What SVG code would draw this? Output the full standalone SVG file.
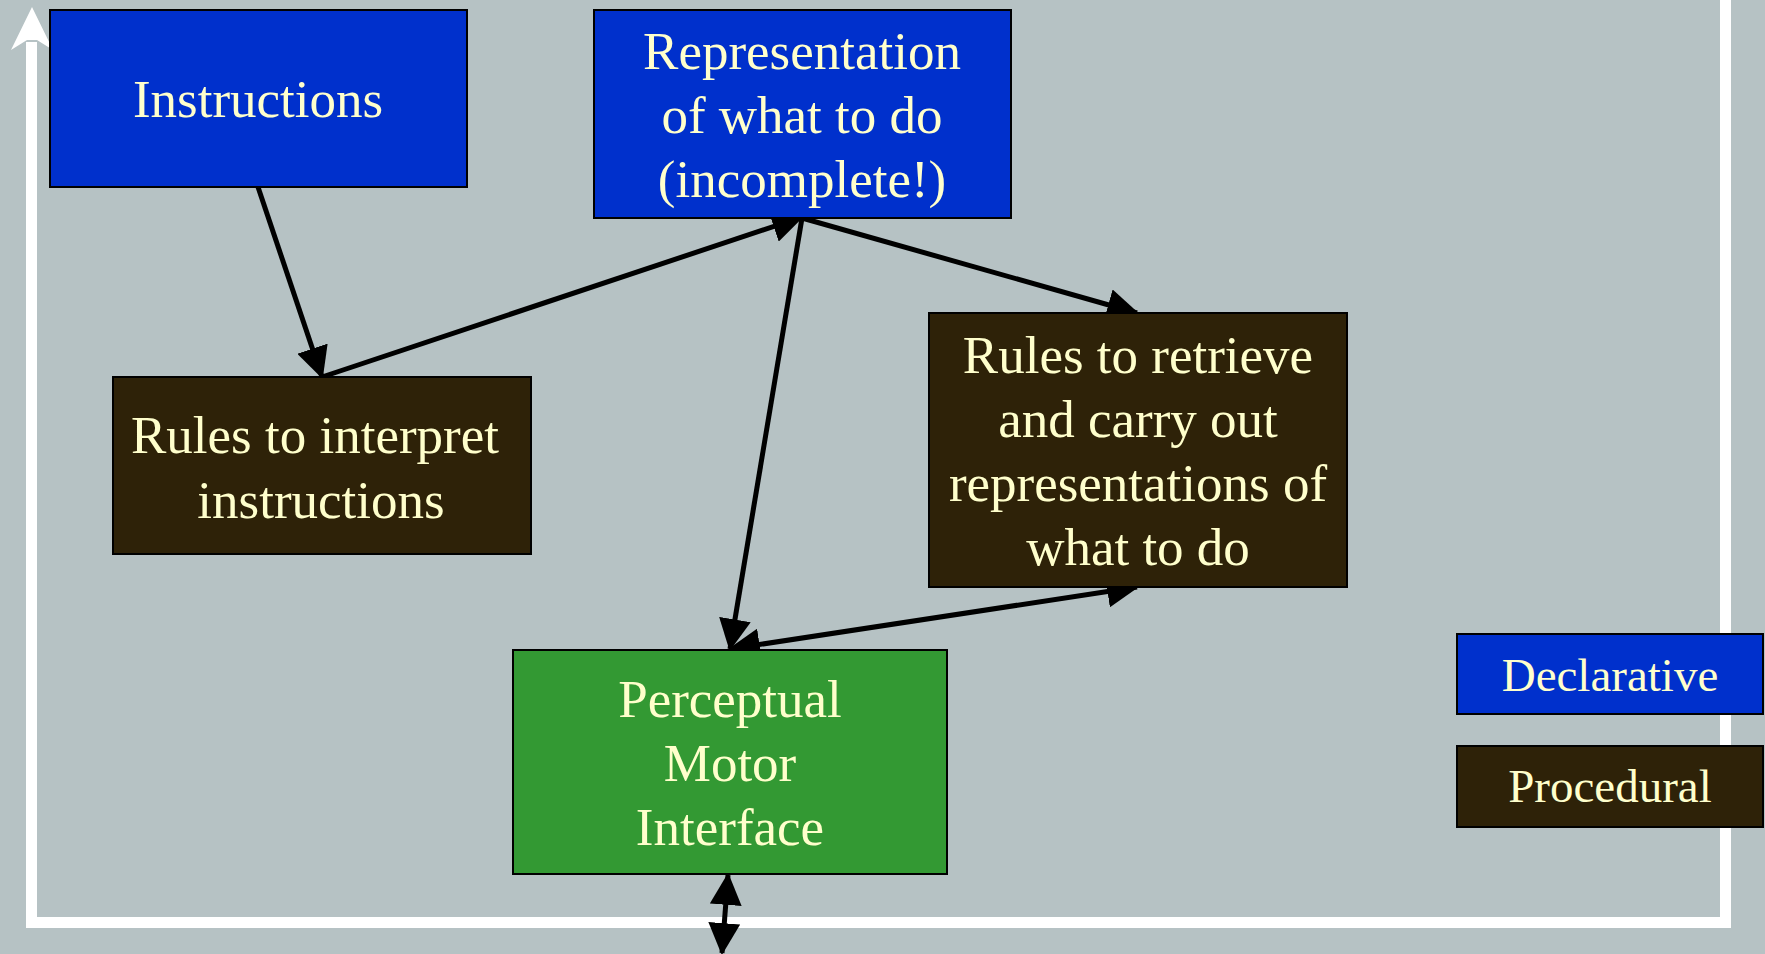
<svg xmlns="http://www.w3.org/2000/svg" width="1765" height="954" viewBox="0 0 1765 954">
<style>
.bg{fill:#b6c2c4}
.decl{fill:#0030cc;stroke:#000;stroke-width:2}
.proc{fill:#2e2208;stroke:#000;stroke-width:2}
.pm{fill:#339933;stroke:#000;stroke-width:2}
.t{font-family:"Liberation Serif","Times New Roman",serif;font-size:53px;fill:#ffffcc;text-anchor:middle}
.tl{font-family:"Liberation Serif","Times New Roman",serif;font-size:47px;fill:#ffffcc;text-anchor:middle}
.c{fill:none;stroke:#000;stroke-width:5}
.frame{fill:none;stroke:#fff;stroke-width:11}
</style>
<defs>
<marker id="ah" markerUnits="userSpaceOnUse" markerWidth="32" markerHeight="32" viewBox="0 0 30 30" refX="28" refY="15" orient="auto-start-reverse">
<path d="M0,0 L30,15 L0,30 z" fill="#000"/>
</marker>
</defs>
<rect class="bg" x="0" y="0" width="1765" height="954"/>
<g id="frame">
<path class="frame" d="M1725.5,0 V922.5 H31.5 V42"/>
<polygon points="32,7 53,50 37,40 27,40 11,50" fill="#fff"/>
</g>
<g id="connectors">
<line class="c" x1="258" y1="187" x2="322" y2="377" marker-end="url(#ah)"/>
<line class="c" x1="322" y1="377" x2="802" y2="217" marker-end="url(#ah)"/>
<line class="c" x1="802" y1="218" x2="1137" y2="313" marker-end="url(#ah)"/>
<line class="c" x1="802" y1="218" x2="730" y2="649" marker-end="url(#ah)"/>
<line class="c" x1="730" y1="649" x2="1137" y2="587" marker-start="url(#ah)" marker-end="url(#ah)"/>
<line class="c" x1="728" y1="875" x2="722" y2="953" marker-start="url(#ah)" marker-end="url(#ah)"/>
</g>
<g id="instructions">
<rect class="decl" x="50" y="10" width="417" height="177"/>
<text class="t" x="258" y="117">Instructions</text>
</g>
<g id="representation">
<rect class="decl" x="594" y="10" width="417" height="208"/>
<text class="t" x="802" y="69">Representation</text>
<text class="t" x="802" y="133">of what to do</text>
<text class="t" x="802" y="197">(incomplete!)</text>
</g>
<g id="rules-interpret">
<rect class="proc" x="113" y="377" width="418" height="177"/>
<text class="t" x="315" y="453">Rules to interpret</text>
<text class="t" x="321" y="518">instructions</text>
</g>
<g id="rules-retrieve">
<rect class="proc" x="929" y="313" width="418" height="274"/>
<text class="t" x="1138" y="373">Rules to retrieve</text>
<text class="t" x="1138" y="437">and carry out</text>
<text class="t" x="1138" y="501">representations of</text>
<text class="t" x="1138" y="565">what to do</text>
</g>
<g id="perceptual-motor">
<rect class="pm" x="513" y="650" width="434" height="224"/>
<text class="t" x="730" y="717">Perceptual</text>
<text class="t" x="730" y="781">Motor</text>
<text class="t" x="730" y="845">Interface</text>
</g>
<g id="legend-declarative">
<rect class="decl" x="1457" y="634" width="306" height="80"/>
<text class="tl" x="1610" y="691">Declarative</text>
</g>
<g id="legend-procedural">
<rect class="proc" x="1457" y="746" width="306" height="81"/>
<text class="tl" x="1610" y="802">Procedural</text>
</g>
</svg>
